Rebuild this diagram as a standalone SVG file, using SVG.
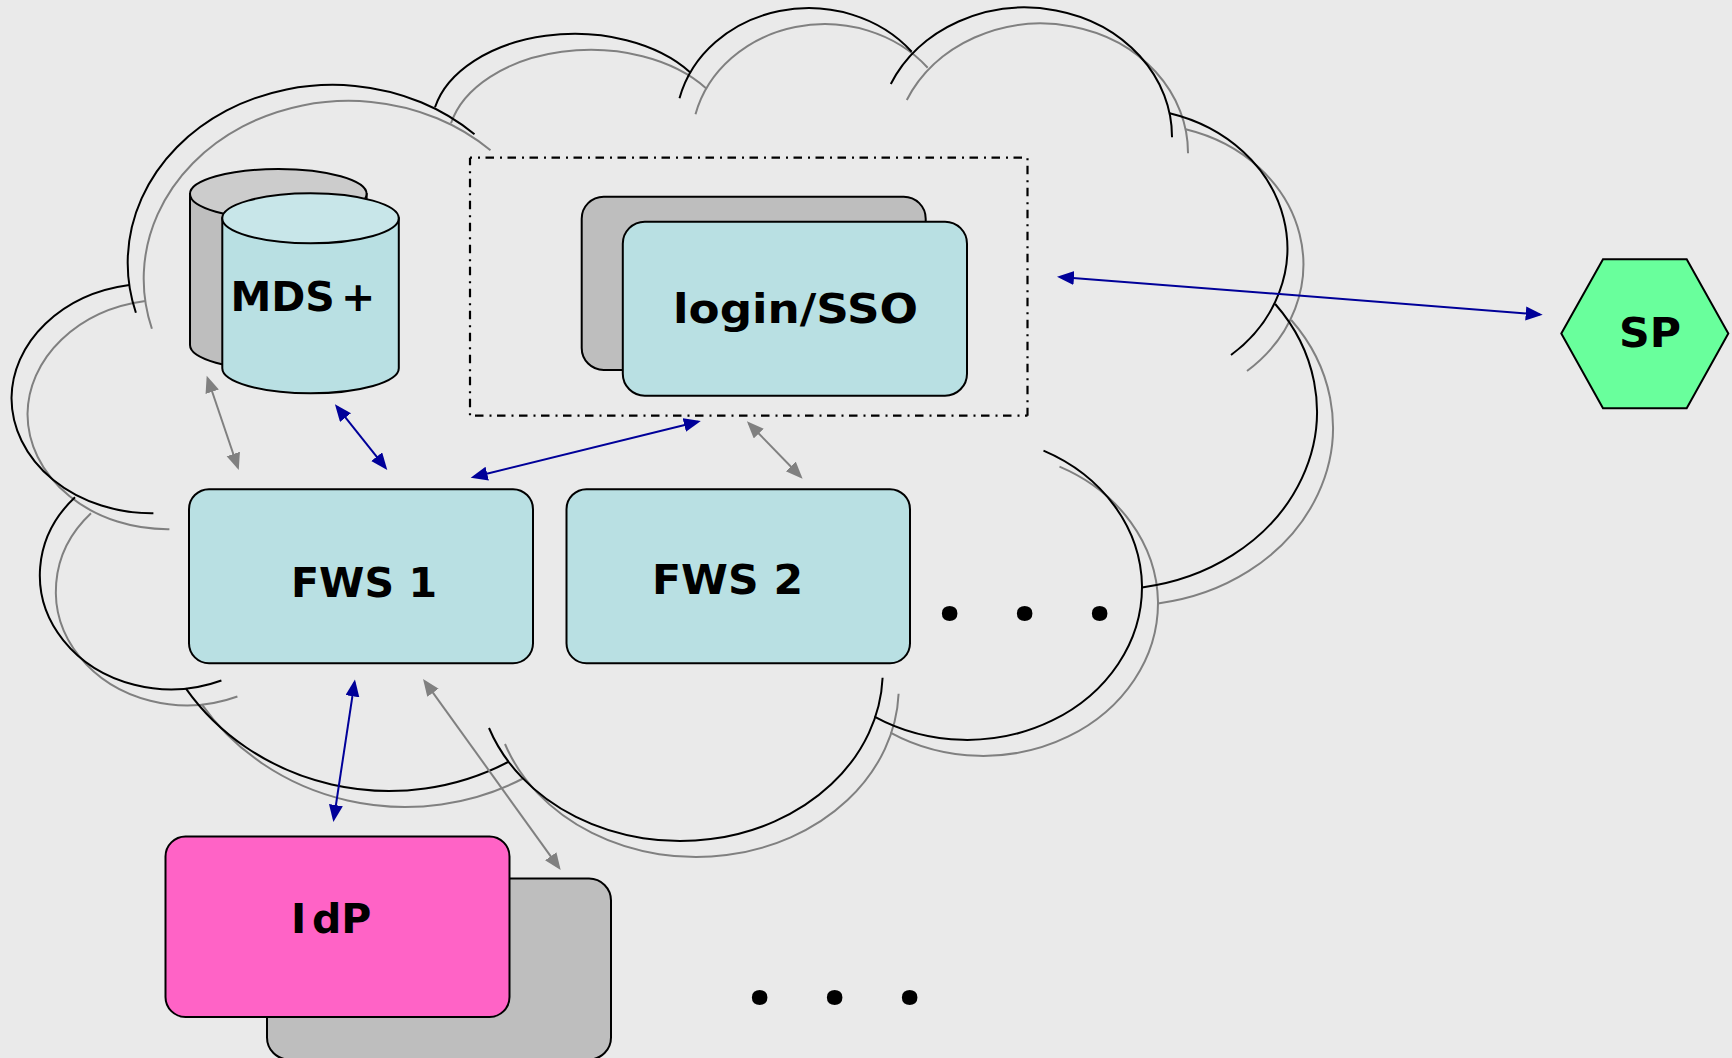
<svg xmlns="http://www.w3.org/2000/svg" width="1732" height="1058" viewBox="0 0 1732 1058">
<style>
.n{stroke:#000;stroke-width:2}
.teal{fill:#b9e0e3}
.back{fill:#bebebe}
.t{font-family:"DejaVu Sans",Verdana,sans-serif;font-weight:700;font-size:41px;fill:#000}
.dots{font-family:"Noto Sans",sans-serif;font-weight:700;font-size:90px;fill:#000}
.arc{fill:none;stroke-width:2}
.dash{fill:none;stroke:#000;stroke-width:2.2;stroke-dasharray:8.5 6 2 5.5}
.b{stroke:#000099;stroke-width:2;fill:none;marker-start:url(#hb);marker-end:url(#hb)}
.g{stroke:#808080;stroke-width:2;fill:none;marker-start:url(#hg);marker-end:url(#hg)}
</style>
<defs>
<marker id="hb" markerUnits="userSpaceOnUse" markerWidth="18" markerHeight="15" refX="14" refY="7" orient="auto-start-reverse"><path d="M0,0L17,7L0,14z" fill="#000099"/></marker>
<marker id="hg" markerUnits="userSpaceOnUse" markerWidth="18" markerHeight="15" refX="14" refY="7" orient="auto-start-reverse"><path d="M0,0L17,7L0,14z" fill="#808080"/></marker>
<g id="arcs" class="arc">
<path d="M135.9,312.7A205 178 0 0 1 474.5,134.3"/>
<path d="M435,107.3A143 93.6 0 0 1 690.6,72.7"/>
<path d="M679.5,98.3A133 118.4 0 0 1 911.7,51.7"/>
<path d="M890.8,84A147 129.2 0 0 1 1172,137.3"/>
<path d="M1169.6,113.3A160 140 0 0 1 1231,355"/>
<path d="M1275.2,304A206 178 0 0 1 1142,587.4"/>
<path d="M1043.5,450.6A175 153 0 0 1 1142,586A175 153 0 0 1 874.4,716.7"/>
<path d="M882.6,677.7A202.7 169.8 0 0 1 489,728"/>
<path d="M508,762A244 229 0 0 1 185.8,688.3"/>
<path d="M221.4,680.5A131 114.2 0 0 1 75,497.3"/>
<path d="M153.4,513.2A140 115.5 0 0 1 11.5,398A140 115.5 0 0 1 129.4,285"/>
</g>
</defs>
<rect width="1732" height="1058" fill="#eaeaea"/>
<g id="cloud">
<use href="#arcs" stroke="#808080" transform="translate(16,16)"/>
<use href="#arcs" stroke="#000"/>
</g>
<g id="group-box"><path class="dash" stroke-dashoffset="6.5" d="M470,157.7H1027.5V415.7"/><path class="dash" stroke-dashoffset="1" d="M470,157.7V415.7H1027.5"/></g>
<g id="mds-back"><path class="n back" d="M190,194V345A88.3 25 0 0 0 366.6,345V194z"/><ellipse class="n" cx="278.3" cy="194" rx="88.3" ry="25" fill="#cccccc"/></g>
<g id="mds"><path class="n teal" d="M222.3,218.3V368.3A88.25 25 0 0 0 398.8,368.3V218.3z"/><ellipse class="n" cx="310.5" cy="218.3" rx="88.25" ry="25" fill="#c8e6e9"/><text class="t" x="230.5" y="310.7">MDS<tspan x="341">+</tspan></text></g>
<g id="login-back"><rect class="n back" x="581.7" y="196.7" width="344" height="173.3" rx="22"/></g>
<g id="login"><rect class="n teal" x="622.8" y="221.7" width="344.2" height="174" rx="22"/><text class="t" x="673" y="323" textLength="245" lengthAdjust="spacingAndGlyphs">login/SSO</text></g>
<g id="fws1"><rect class="n teal" x="189" y="489.2" width="344" height="174" rx="20"/><text class="t" x="291" y="596.5" textLength="146" lengthAdjust="spacingAndGlyphs">FWS 1</text></g>
<g id="fws2"><rect class="n teal" x="566.5" y="489.2" width="343.5" height="174" rx="20"/><text class="t" x="652" y="593.7" textLength="151" lengthAdjust="spacingAndGlyphs">FWS 2</text></g>
<g id="idp-back"><rect class="n back" x="267" y="878.5" width="344" height="181" rx="22"/></g>
<g id="idp"><rect class="n" x="165.5" y="836.5" width="344" height="180.5" rx="20" fill="#ff63c6"/><text class="t" x="291" y="932.6">I<tspan x="312">dP</tspan></text></g>
<g id="sp"><polygon class="n" points="1561.3,333.5 1603,259.3 1686.7,259.3 1728.3,333.5 1686.7,408.3 1603,408.3" fill="#69ff9c"/><text class="t" x="1619" y="346.7" textLength="62" lengthAdjust="spacingAndGlyphs">SP</text></g>
<g id="more"><text class="dots" y="620" x="937 985 1012 1060 1087">. . .</text><text class="dots" y="1004" x="747 795 822 870 897">. . .</text></g>
<g id="connectors">
<path class="g" d="M207.7,378.5L237.8,467.2"/>
<path class="b" d="M336.8,406.6L385.4,467.7"/>
<path class="b" d="M473.6,477L697.9,421.7"/>
<path class="g" d="M749,423.5L800.5,476.5"/>
<path class="b" d="M1060,276.9L1539.7,314.5"/>
<path class="b" d="M354.5,682.4L333.8,819"/>
<path class="g" d="M424.8,681.4L558.9,867.6"/>
</g>
</svg>
